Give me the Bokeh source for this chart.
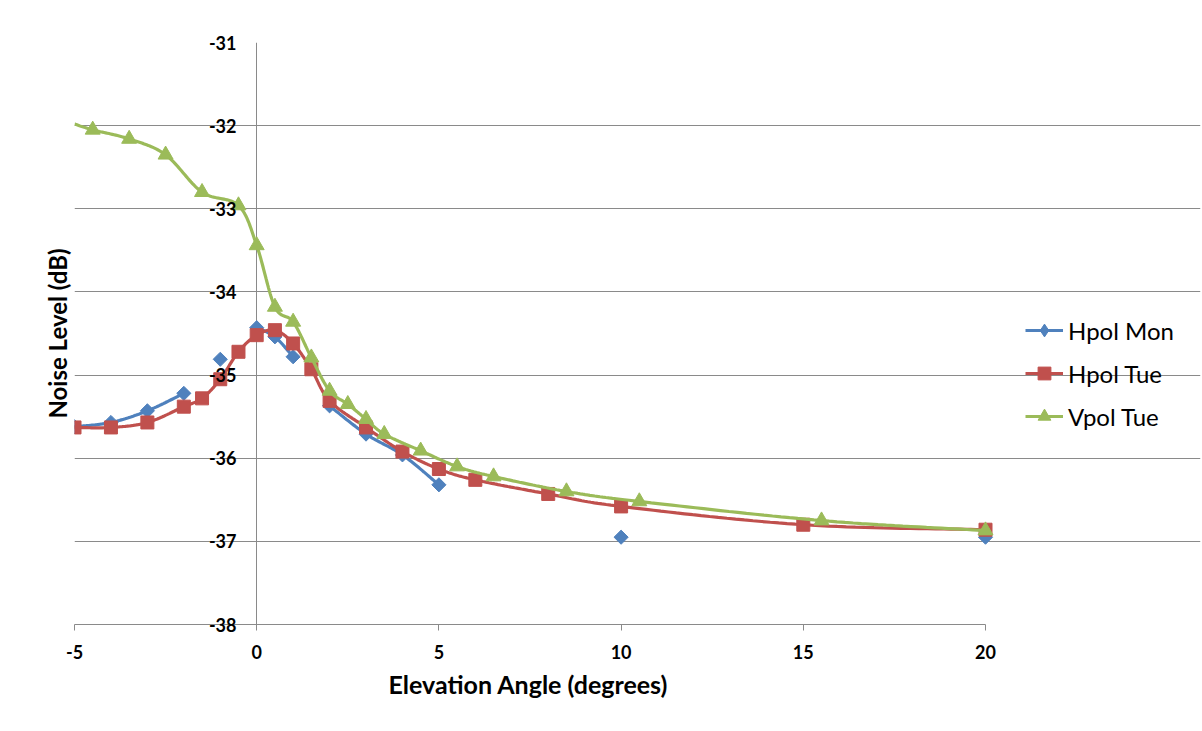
import math
import numpy as np
from bokeh.plotting import figure
from bokeh.models import Range1d, Legend, LegendItem, FixedTicker, Title
from bokeh.embed import file_html
from bokeh.resources import INLINE

NAN = float("nan")

# ---- data ----
x_hpol_mon = [-5, -4, -3, -2, -1.5, -1, -0.5, 0, 0.5, 1, 1.5, 2, 3, 4, 5, 6, 10, 15, 20]
y_hpol_mon = [-35.62, -35.57, -35.43, -35.22, NAN, -34.81, NAN, -34.43, -34.54, -34.78, NAN,
              -35.37, -35.71, -35.96, -36.32, NAN, -36.95, NAN, -36.95]

x_hpol_tue = [-5, -4, -3, -2, -1.5, -1, -0.5, 0, 0.5, 1, 1.5, 2, 3, 4, 5, 6, 8, 10, 15, 20]
y_hpol_tue = [-35.63, -35.63, -35.57, -35.38, -35.28, -35.05, -34.72, -34.52, -34.46, -34.62,
              -34.93, -35.31, -35.63, -35.92, -36.13, -36.26, -36.43, -36.58, -36.80, -36.86]

x_vpol_tue = [-5, -4.5, -3.5, -2.5, -1.5, -0.5, 0, 0.5, 1, 1.5, 2, 2.5, 3, 3.5, 4.5, 5.5, 6.5,
              8.5, 10.5, 15.5, 20]
y_vpol_tue = [-31.98, -32.05, -32.16, -32.35, -32.80, -32.96, -33.44, -34.18, -34.36, -34.79,
              -35.19, -35.35, -35.53, -35.71, -35.91, -36.10, -36.22, -36.40, -36.52, -36.75,
              -36.87]
vpol_marker_from = 1  # first Vpol point has no visible marker

series_names = ["Hpol Mon", "Hpol Tue", "Vpol Tue"]
x_ticks = [-5, 0, 5, 10, 15, 20]
y_ticks = [-38, -37, -36, -35, -34, -33, -32, -31]

C_BLUE, C_RED, C_GREEN = "#4F81BD", "#C0504D", "#9BBB59"
GRAY = "#8a8a8a"

X0, X1, Y0, Y1 = -5, 20, -38, -31
FL, FR, FT, FB = 74, 985, 42, 624  # data area in pixels
W, H = 1202, 731
SX = (FR - FL) / (X1 - X0)
SY = (FB - FT) / (Y1 - Y0)
RIGHT_PAD = 2
X1E = X1 + (W - RIGHT_PAD - FR) / SX  # frame extends right to hold the legend


def smooth(xs, ys, n=24):
    """Excel-like smoothed line (Catmull-Rom as cubic Bezier), with gaps at NaN."""
    segs, cur = [], []
    for x, y in zip(xs, ys):
        if math.isnan(y):
            if cur:
                segs.append(cur)
            cur = []
        else:
            cur.append((x * SX, y * SY))
    if cur:
        segs.append(cur)
    ox, oy = [], []
    for seg in segs:
        if len(seg) < 2:
            continue
        P = np.array(seg)
        m = len(P)
        t = np.linspace(0, 1, n)[:, None]
        for i in range(m - 1):
            p0 = P[i - 1] if i > 0 else P[i]
            p1, p2 = P[i], P[i + 1]
            p3 = P[i + 2] if i + 2 < m else P[i + 1]
            c1 = p1 + (p2 - p0) / 6.0
            c2 = p2 - (p3 - p1) / 6.0
            b = ((1 - t) ** 3) * p1 + 3 * ((1 - t) ** 2) * t * c1 + 3 * (1 - t) * t ** 2 * c2 + t ** 3 * p2
            ox.extend((b[:, 0] / SX).tolist())
            oy.extend((b[:, 1] / SY).tolist())
        ox.append(NAN)
        oy.append(NAN)
    return ox, oy


p = figure(width=W, height=H, output_backend="svg", toolbar_location=None,
           x_range=Range1d(X0, X1E), y_range=Range1d(Y0, Y1),
           min_border_left=FL, min_border_right=RIGHT_PAD, min_border_top=FT,
           min_border_bottom=H - FB)
p.outline_line_color = None
p.background_fill_color = "white"
p.border_fill_color = "white"

# horizontal gridlines limited to the data area
p.ygrid.ticker = FixedTicker(ticks=y_ticks)
p.ygrid.grid_line_color = GRAY
p.ygrid.grid_line_width = 1
p.ygrid.bounds = (X0, X1)
# vertical value axis line at x = 0
p.xgrid.ticker = FixedTicker(ticks=[0])
p.xgrid.grid_line_color = GRAY
p.xgrid.grid_line_width = 1
p.xgrid.bounds = (Y0, Y1)

# x axis
xa = p.xaxis[0]
xa.ticker = FixedTicker(ticks=x_ticks)
xa.major_label_overrides = {t: str(t) for t in x_ticks}
xa.bounds = (X0, X1)
xa.axis_line_color = GRAY
xa.major_tick_line_color = GRAY
xa.major_tick_out = 6
xa.major_tick_in = 0
xa.minor_tick_out = 0
xa.minor_tick_in = 0
xa.major_label_text_font = "Lato"
xa.major_label_text_font_style = "bold"
xa.major_label_text_font_size = "18px"
xa.major_label_text_color = "black"
xa.major_label_standoff = 14

p.add_layout(Title(text="Elevation Angle (degrees)", align="left", offset=388 - FL,
                   text_font="Lato", text_font_style="bold", text_font_size="25px",
                   text_color="black", standoff=10), "below")

# y axis: labels drawn next to the x = 0 line
ya = p.yaxis[0]
ya.ticker = FixedTicker(ticks=y_ticks)
ya.major_label_overrides = {t: str(t) for t in y_ticks}
ya.axis_line_color = None
ya.major_tick_line_color = None
ya.minor_tick_line_color = None
ya.major_tick_out = 0
ya.major_tick_in = 0
ya.minor_tick_out = 0
ya.minor_tick_in = 0
ya.major_label_text_font = "Lato"
ya.major_label_text_font_style = "bold"
ya.major_label_text_font_size = "18px"
ya.major_label_text_color = "black"
ya.major_label_standoff = -(236 - FL)
ya.axis_label = "Noise Level (dB)"
ya.axis_label_text_font = "Lato"
ya.axis_label_text_font_style = "bold"
ya.axis_label_text_font_size = "24px"
ya.axis_label_text_color = "black"
ya.axis_label_standoff = 134

# series
bx, by = smooth(x_hpol_mon, y_hpol_mon)
rx, ry = smooth(x_hpol_tue, y_hpol_tue)
gx, gy = smooth(x_vpol_tue, y_vpol_tue)

lb = p.line(bx, by, line_color=C_BLUE, line_width=3.2)
mb = p.scatter([x for x, y in zip(x_hpol_mon, y_hpol_mon) if not math.isnan(y)],
               [y for y in y_hpol_mon if not math.isnan(y)],
               marker="square", angle=math.pi / 4, size=10, fill_color=C_BLUE,
               line_color=C_BLUE)
lr = p.line(rx, ry, line_color=C_RED, line_width=3.2)
mr = p.scatter(x_hpol_tue, y_hpol_tue, marker="square", size=13,
               fill_color=C_RED, line_color=C_RED)
lg = p.line(gx, gy, line_color=C_GREEN, line_width=3.2)
mg = p.scatter(x_vpol_tue[vpol_marker_from:], y_vpol_tue[vpol_marker_from:],
               marker="triangle", size=15, fill_color=C_GREEN, line_color=C_GREEN)
# legend key glyph for the diamond markers (a NaN point: draws nothing in the plot)
mb_key = p.scatter(x=[NAN], y=[NAN], marker="diamond", fill_color=C_BLUE, line_color=C_BLUE)

legend = Legend(items=[LegendItem(label=series_names[0], renderers=[lb, mb_key]),
                       LegendItem(label=series_names[1], renderers=[lr, mr]),
                       LegendItem(label=series_names[2], renderers=[lg, mg])],
                location=(1025 - FL, FB - 432))
legend.border_line_color = None
legend.background_fill_alpha = 0
legend.padding = 0
legend.margin = 0
legend.spacing = 11
legend.glyph_width = 38
legend.glyph_height = 32
legend.label_height = 20
legend.label_standoff = 5
legend.label_text_font = "Lato"
legend.label_text_font_size = "24px"
legend.label_text_color = "black"
legend.label_text_baseline = "middle"
p.add_layout(legend)

open("out.html", "w").write(file_html(p, INLINE))
